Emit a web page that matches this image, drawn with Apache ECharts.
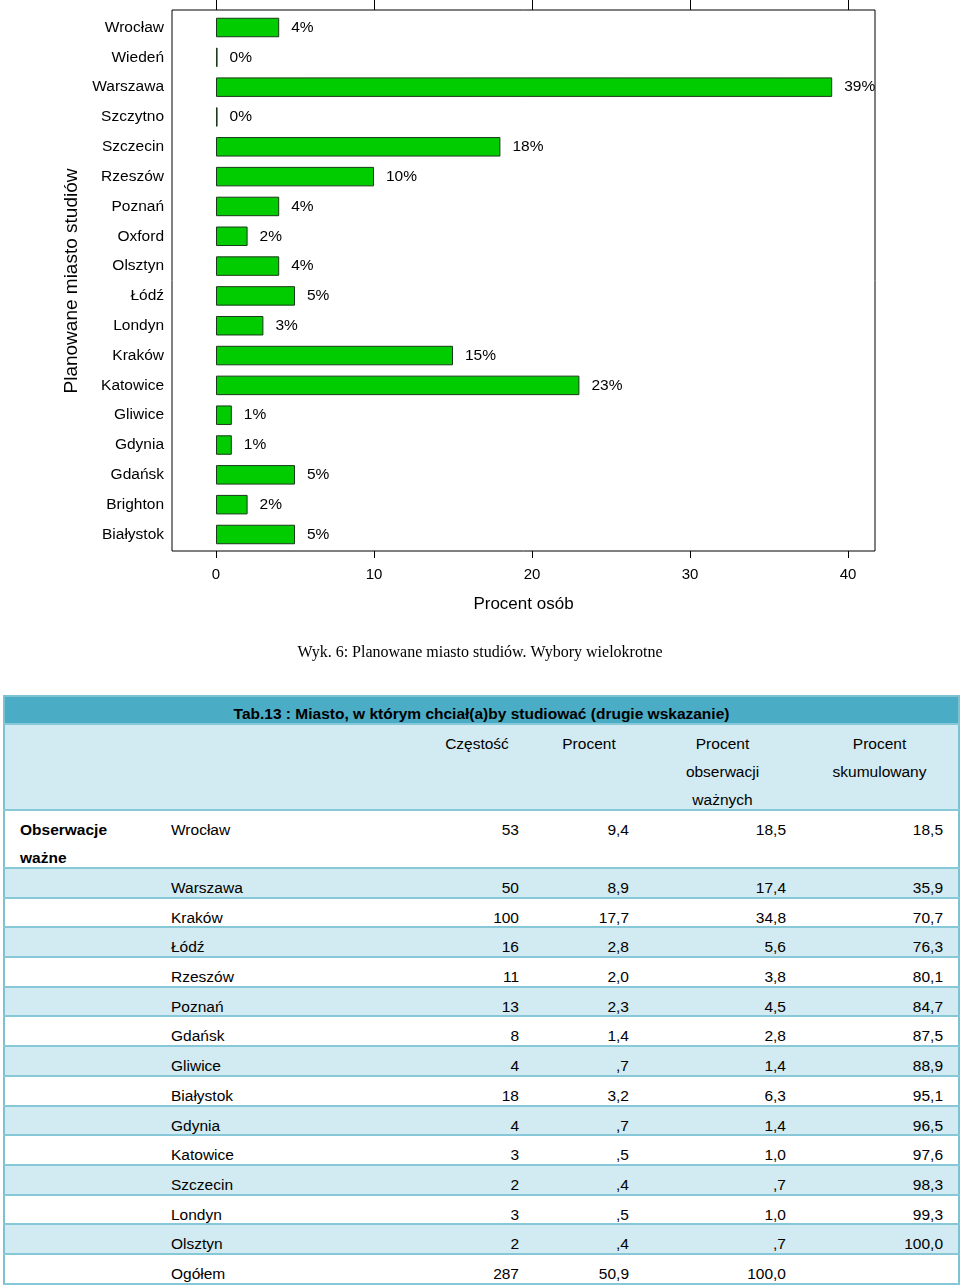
<!DOCTYPE html>
<html>
<head>
<meta charset="utf-8">
<script src="https://cdn.jsdelivr.net/npm/echarts@6/dist/echarts.min.js"></script>
<style>
  html, body { margin:0; padding:0; background:#fff; }
  body { width:960px; height:1288px; position:relative; overflow:hidden; font-family:"Liberation Sans", Arial, sans-serif; }
  #chart { position:absolute; left:0; top:0; width:960px; height:690px; }
  #tbl { position:absolute; left:3px; top:695px; width:955px; border-collapse:collapse; table-layout:fixed;
         font-family:"Liberation Sans", Arial, sans-serif; font-size:15.5px; color:#000; border:2px solid #7cc2d3; }
  #tbl td { padding:0 15px; vertical-align:top; border:none; }
  #tbl tr { border-bottom:2px solid #86c8d7; }
  #tbl td > div { margin-top:5px; line-height:28px; overflow:visible; white-space:nowrap; }
  .title td { background:#4bacc6; font-weight:bold; text-align:center; }
  .title td > div { margin-top:4px !important; line-height:26px !important; height:22px; }
  .sub td { background:#d2eaf1; text-align:center; }
  .sub td.sep { border-left:1px solid #c2e1ea; }
  .blue td { background:#d2eaf1; }
  .num { text-align:right; }
  .b { font-weight:bold; }
</style>
</head>
<body>
<div id="chart"></div>
<table id="tbl"></table>
<script>
// ---- chart data ----
const cities = ['Wrocław','Wiedeń','Warszawa','Szczytno','Szczecin','Rzeszów','Poznań','Oxford','Olsztyn','Łódź','Londyn','Kraków','Katowice','Gliwice','Gdynia','Gdańsk','Brighton','Białystok'];
const percents = [4, 0.1, 39, 0.1, 18, 10, 4, 2, 4, 5, 3, 15, 23, 1, 1, 5, 2, 5];
const xTicks = [0, 10, 20, 30, 40];

// ---- table data ----
const tableTitle = 'Tab.13 : Miasto, w którym chciał(a)by studiować (drugie wskazanie)';
const tableHeaders = ['Częstość', 'Procent', 'Procent<br>obserwacji<br>ważnych', 'Procent<br>skumulowany'];
const rowGroup = 'Obserwacje<br>ważne';
const tCities = ['Wrocław','Warszawa','Kraków','Łódź','Rzeszów','Poznań','Gdańsk','Gliwice','Białystok','Gdynia','Katowice','Szczecin','Londyn','Olsztyn','Ogółem'];
const tFreq = ['53','50','100','16','11','13','8','4','18','4','3','2','3','2','287'];
const tPct = ['9,4','8,9','17,7','2,8','2,0','2,3','1,4',',7','3,2',',7',',5',',4',',5',',4','50,9'];
const tValid = ['18,5','17,4','34,8','5,6','3,8','4,5','2,8','1,4','6,3','1,4','1,0',',7','1,0',',7','100,0'];
const tCum = ['18,5','35,9','70,7','76,3','80,1','84,7','87,5','88,9','95,1','96,5','97,6','98,3','99,3','100,0',''];

const FONT = '"Liberation Sans", Arial, sans-serif';
const XMIN = -2.785, XMAX = 41.709;
const chart = echarts.init(document.getElementById('chart'), null, { renderer: 'canvas' });
chart.setOption({
  animation: false,
  title: {
    text: 'Wyk. 6: Planowane miasto studiów. Wybory wielokrotne',
    left: 'center', top: 640,
    textStyle: { fontFamily: '"Liberation Serif", "Times New Roman", serif', fontSize: 16, fontWeight: 'normal', color: '#000' }
  },
  grid: [
    { left: 172, right: 85, top: 10, bottom: 139, show: true, borderColor: '#000', borderWidth: 1, backgroundColor: 'transparent' },
    { left: 172, right: 85, top: 12.6, bottom: 140.6 }
  ],
  xAxis: [{
    gridIndex: 0, type: 'value', position: 'bottom', min: XMIN, max: XMAX,
    name: 'Procent osób', nameLocation: 'middle', nameGap: 45,
    nameTextStyle: { fontFamily: FONT, fontSize: 17, color: '#000' },
    axisLine: { show: false }, splitLine: { show: false },
    axisTick: { show: true, customValues: xTicks, length: 7, lineStyle: { color: '#000' } },
    axisLabel: { customValues: xTicks, margin: 16, fontFamily: FONT, fontSize: 15, color: '#000' }
  }, {
    gridIndex: 0, type: 'value', position: 'top', min: XMIN, max: XMAX,
    axisLine: { show: false }, splitLine: { show: false },
    axisTick: { show: true, customValues: xTicks, length: 10, lineStyle: { color: '#000' } },
    axisLabel: { show: false }
  }, {
    gridIndex: 1, type: 'value', min: XMIN, max: XMAX, show: false
  }],
  yAxis: [{
    gridIndex: 0, type: 'category', data: cities, show: false
  }, {
    gridIndex: 1, type: 'category', data: cities, inverse: true,
    name: 'Planowane miasto studiów', nameLocation: 'middle', nameGap: 90,
    nameTextStyle: { fontFamily: FONT, fontSize: 19, color: '#000' },
    axisLine: { show: false }, axisTick: { show: false },
    axisLabel: { margin: 8, fontFamily: FONT, fontSize: 15.5, color: '#000' }
  }],
  series: [{
    type: 'bar', xAxisIndex: 2, yAxisIndex: 1, data: percents, barWidth: 19.5,
    itemStyle: { color: '#00cc00', borderColor: '#1a3a1a', borderWidth: 1 },
    label: { show: true, position: 'right', distance: 12, fontFamily: FONT, fontSize: 15.5, color: '#000',
      formatter: p => Math.round(p.value) + '%' }
  }]
});

// ---- table ----
let html = '<colgroup><col style="width:152px"><col style="width:264px"><col style="width:114px"><col style="width:110px"><col style="width:157px"><col style="width:158px"></colgroup>';
html += '<tr class="title"><td colspan="6"><div>' + tableTitle + '</div></td></tr>';
html += '<tr class="sub"><td colspan="2"><div style="height:79px"></div></td>' +
  tableHeaders.map((h, i) => '<td class="' + (i === 0 || i === 3 ? 'sep' : '') + '"><div style="height:79px">' + h + '</div></td>').join('') + '</tr>';
for (let i = 0; i < tCities.length; i++) {
  const cls = (i % 2 === 1) ? 'blue' : '';
  const h = i === 0 ? 51 : 22.7;
  html += '<tr class="' + cls + '">' +
    '<td class="b"><div style="height:' + h + 'px">' + (i === 0 ? rowGroup : '') + '</div></td>' +
    '<td><div style="height:' + h + 'px">' + tCities[i] + '</div></td>' +
    '<td class="num"><div style="height:' + h + 'px">' + tFreq[i] + '</div></td>' +
    '<td class="num"><div style="height:' + h + 'px">' + tPct[i] + '</div></td>' +
    '<td class="num"><div style="height:' + h + 'px">' + tValid[i] + '</div></td>' +
    '<td class="num"><div style="height:' + h + 'px">' + tCum[i] + '</div></td></tr>';
}
document.getElementById('tbl').innerHTML = html;
</script>
</body>
</html>
